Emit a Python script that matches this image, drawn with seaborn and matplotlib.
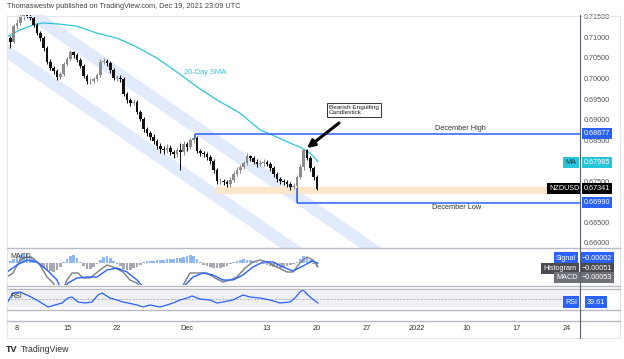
import numpy as np
import pandas as pd
import matplotlib
matplotlib.use("Agg")
import matplotlib.pyplot as plt
import matplotlib.transforms as mtransforms
from matplotlib.lines import Line2D
import seaborn as sns

sns.set_theme(style="white")
plt.rcParams["font.family"] = ["Liberation Sans", "DejaVu Sans"]

# ---------------- data (NZD/USD, 8h bars, x in trading days from Nov 8) ----------------
first_open = 0.7110
close = [0.7101, 0.7091, 0.7130, 0.7138, 0.7152, 0.7157, 0.7155, 0.7150, 0.7133, 0.7113,
         0.7101, 0.7077, 0.7043, 0.7028, 0.7021, 0.7006, 0.7013, 0.7038, 0.7050, 0.7067,
         0.7060, 0.7048, 0.7033, 0.7009, 0.6996, 0.6996, 0.7001, 0.7011, 0.7043, 0.7045,
         0.7040, 0.7023, 0.7004, 0.7004, 0.7001, 0.6965, 0.6950, 0.6943, 0.6945, 0.6921,
         0.6904, 0.6879, 0.6870, 0.6860, 0.6850, 0.6838, 0.6830, 0.6828, 0.6833, 0.6823,
         0.6818, 0.6828, 0.6823, 0.6843, 0.6835, 0.6852, 0.6858, 0.6826, 0.6821, 0.6818,
         0.6811, 0.6801, 0.6779, 0.6752, 0.6752, 0.6750, 0.6745, 0.6755, 0.6770, 0.6779,
         0.6787, 0.6796, 0.6813, 0.6809, 0.6799, 0.6794, 0.6796, 0.6799, 0.6794, 0.6784,
         0.6770, 0.6757, 0.6752, 0.6750, 0.6745, 0.6738, 0.6740, 0.6762, 0.6787, 0.6828,
         0.6809, 0.6784, 0.6762, 0.6734]
high = [0.7116, 0.7105, 0.7136, 0.7147, 0.7160, 0.7165, 0.7163, 0.7160, 0.7154, 0.7137,
        0.7118, 0.7105, 0.7081, 0.7049, 0.7034, 0.7025, 0.7019, 0.7043, 0.7056, 0.7073,
        0.7070, 0.7064, 0.7052, 0.7037, 0.7013, 0.7003, 0.7007, 0.7017, 0.7050, 0.7052,
        0.7050, 0.7044, 0.7027, 0.7010, 0.7012, 0.7005, 0.6970, 0.6956, 0.6952, 0.6949,
        0.6926, 0.6909, 0.6884, 0.6875, 0.6866, 0.6855, 0.6844, 0.6837, 0.6842, 0.6840,
        0.6829, 0.6836, 0.6845, 0.6850, 0.6848, 0.6858, 0.6868, 0.6862, 0.6830, 0.6826,
        0.6823, 0.6816, 0.6805, 0.6783, 0.6760, 0.6758, 0.6756, 0.6762, 0.6776, 0.6786,
        0.6792, 0.6802, 0.6820, 0.6817, 0.6813, 0.6805, 0.6804, 0.6806, 0.6804, 0.6798,
        0.6788, 0.6774, 0.6762, 0.6757, 0.6756, 0.6750, 0.6747, 0.6768, 0.6794, 0.6831,
        0.6830, 0.6813, 0.6788, 0.6766]
low = [0.7080, 0.7078, 0.7088, 0.7124, 0.7132, 0.7146, 0.7149, 0.7144, 0.7128, 0.7108,
       0.7095, 0.7070, 0.7038, 0.7022, 0.7014, 0.6998, 0.7001, 0.7009, 0.7032, 0.7046,
       0.7053, 0.7042, 0.7027, 0.7003, 0.6990, 0.6989, 0.6991, 0.6997, 0.7007, 0.7037,
       0.7033, 0.7017, 0.6998, 0.6997, 0.6994, 0.6959, 0.6943, 0.6936, 0.6937, 0.6915,
       0.6898, 0.6872, 0.6863, 0.6852, 0.6843, 0.6830, 0.6820, 0.6818, 0.6821, 0.6815,
       0.6808, 0.6810, 0.6780, 0.6815, 0.6826, 0.6830, 0.6845, 0.6820, 0.6814, 0.6811,
       0.6804, 0.6795, 0.6772, 0.6745, 0.6744, 0.6742, 0.6737, 0.6739, 0.6750, 0.6765,
       0.6773, 0.6781, 0.6791, 0.6802, 0.6793, 0.6787, 0.6789, 0.6790, 0.6788, 0.6778,
       0.6763, 0.6750, 0.6745, 0.6742, 0.6737, 0.6730, 0.6733, 0.6699, 0.6757, 0.6780,
       0.6803, 0.6777, 0.6755, 0.6730]

sma_day = [-1.0, 0.3, 1.6, 2.6, 4.3, 6.0, 8.0, 10.0, 12.0, 14.0, 16.0, 18.0, 20.0,
           22.3, 24.3, 25.3, 27.3, 28.3, 29.0, 29.6, 30.1]
sma_val = [0.7104, 0.7121, 0.7133, 0.7138, 0.7135, 0.7130, 0.7113, 0.7101, 0.7079,
           0.7052, 0.7018, 0.6982, 0.6950, 0.6918, 0.6877, 0.6867, 0.6845, 0.6835,
           0.6826, 0.6814, 0.6799]

chan_day = [-1.0, 40.0]
chan_a = [0.7068, 0.6378]
chan_b = [0.7202, 0.6512]
chan_half = 0.0018

dec_high, dec_low = 0.68677, 0.66990
last_price, ma_last = 0.67341, 0.67985
zone = (0.6721, 0.6738)
price_ticks = [0.660, 0.665, 0.670, 0.675, 0.680, 0.685, 0.690, 0.695, 0.700, 0.705, 0.710, 0.715]

hist = [0.00013, 0.00026, 0.00052, 0.00078, 0.00104, 0.00117, 0.00117, 0.00091, 0.00052, 0.00013,
        -0.00039, -0.00065, -0.00091, -0.00104, -0.00117, -0.00091, -0.00052, 0.00013, 0.00052, 0.00091,
        0.00104, 0.00065, 0.00013, -0.00039, -0.00078, -0.00078, -0.00052, -0.00013, 0.00039, 0.00078,
        0.00091, 0.00065, 0.00026, -0.00013, -0.00039, -0.00078, -0.00091, -0.00091, -0.00065, -0.00052,
        -0.00026, 0.00013, 0.00026, 0.00026, 0.00026, 0.00039, 0.00039, 0.00039, 0.00052, 0.00052,
        0.00052, 0.00065, 0.00065, 0.00078, 0.00091, 0.00104, 0.00091, 0.00052, 0.00013, -0.00026,
        -0.00039, -0.00052, -0.00065, -0.00065, -0.00065, -0.00052, -0.00039, -0.00013, 0.00013, 0.00026,
        0.00039, 0.00052, 0.00039, 0.00039, 0.00026, 0.00013, -0.00005, -0.00013, -0.00026, -0.00039,
        -0.00052, -0.00065, -0.00065, -0.00052, -0.00039, -0.00026, -0.00013, 0.00013, 0.00052, 0.00091,
        0.00078, 0.00039, -0.00013, -0.00051]

macd_day = [-1.0, -0.4, 0.3, 1.0, 1.6, 2.3, 3.0, 3.6, 4.1, 4.5, 5.0, 5.5, 6.1, 6.6, 7.3, 8.3,
            9.0, 9.6, 10.6, 11.3, 12.0, 12.3, 13.3, 14.8, 16.1, 16.5, 17.3, 18.3, 19.0, 19.8,
            20.6, 21.3, 22.0, 22.8, 23.6, 24.3, 25.0, 26.0, 27.0, 27.6, 28.3, 29.0, 29.6, 30.1]
macd_val = [-0.00182, -0.00130, 0.00039, 0.00078, 0.00065, -0.00026, -0.00182, -0.00260,
            -0.00351, -0.00377, -0.00221, -0.00130, -0.00130, -0.00195, -0.00195, -0.00091,
            -0.00026, -0.00052, -0.00117, -0.00221, -0.00260, -0.00312, -0.00481, -0.00546,
            -0.00416, -0.00312, -0.00130, -0.00130, -0.00130, -0.00195, -0.00247, -0.00221,
            -0.00182, -0.00065, 0.00013, 0.00039, 0.00013, -0.00052, -0.00117, -0.00117,
            0.00000, 0.00078, 0.00039, -0.00053]
sig_day = [-1.0, 0.0, 1.0, 2.0, 3.0, 4.0, 4.3, 4.7, 5.1, 6.0, 7.0, 8.0, 9.0, 10.0, 11.0, 12.0,
           12.6, 13.8, 15.3, 16.3, 16.8, 17.6, 18.6, 19.6, 20.6, 21.6, 22.6, 23.6, 24.6, 25.6,
           26.6, 27.6, 28.6, 29.5, 30.1]
sig_val = [-0.00117, -0.00026, 0.00039, 0.00013, -0.00091, -0.00221, -0.00312, -0.00351,
           -0.00260, -0.00195, -0.00182, -0.00182, -0.00091, -0.00065, -0.00117, -0.00221,
           -0.00312, -0.00455, -0.00481, -0.00351, -0.00286, -0.00182, -0.00130, -0.00156,
           -0.00221, -0.00221, -0.00156, -0.00052, 0.00013, 0.00013, -0.00052, -0.00104,
           -0.00039, 0.00026, -0.00002]

rsi_day = [-1.0, -0.4, 0.3, 1.0, 1.6, 2.3, 3.1, 3.8, 4.5, 5.1, 5.5, 6.1, 6.8, 7.5, 8.1, 8.5,
           9.3, 10.0, 10.6, 11.1, 12.0, 12.6, 13.3, 14.3, 15.0, 15.6, 16.3, 17.0, 17.5, 18.3,
           19.3, 20.0, 20.6, 21.6, 22.6, 23.3, 24.3, 25.3, 26.3, 27.3, 27.8, 28.3, 28.6, 29.3, 30.1]
rsi_val = [40, 65, 67.5, 60, 52.5, 42.5, 30, 35, 40, 52.5, 55, 42.5, 40, 42.5, 60, 65,
           52.5, 47.5, 42.5, 40, 35, 30, 35, 30, 35, 40, 47.5, 52.5, 57.5, 50,
           47.5, 40, 42.5, 47.5, 60, 55, 52.5, 47.5, 40, 42.5, 52.5, 67.5, 72.5, 55, 39.61]

date_pos = [0, 5, 10, 17, 25, 30, 35, 40, 45, 50, 55]
date_lbl = ["8", "15", "22", "Dec", "13", "20", "27", "2022", "10", "17", "24"]

# ---------------- layout ----------------
W, H = 624, 359
fig = plt.figure(figsize=(W / 100, H / 100), dpi=100)
fig.patch.set_facecolor("white")


def fx(px):
    return px / W


def fy(py):
    return 1 - py / H


XL, XR = 7, 580


def rect(top, bottom):
    return [fx(XL), fy(bottom), fx(XR - XL), (bottom - top) / H]


ax = fig.add_axes(rect(15, 247))
ax_m = fig.add_axes(rect(249, 285))
ax_r = fig.add_axes(rect(289, 309))
XMIN, XMAX = -1.0, 56.3
for a in (ax, ax_m, ax_r):
    a.set_xlim(XMIN, XMAX)
    a.set_xticks([])
    a.set_yticks([])
    for s in a.spines.values():
        s.set_visible(False)
    a.set_facecolor("none")

ax.set_ylim(0.65915, 0.71573)
ax_m.set_ylim(-0.00286, 0.00182)
ax_r.set_ylim(25, 75)

# ---------------- main price panel ----------------
for c in (chan_a, chan_b):
    c = np.array(c)
    ax.fill_between(chan_day, c - chan_half, c + chan_half, color="#e1ebfc", lw=0, zorder=1)

ax.fill_between([19.9, XMAX], zone[0], zone[1], color="#fde6c9", lw=0, zorder=2)

c_arr = np.array(close)
o_arr = np.r_[first_open, c_arr[:-1]]
day = -1 + np.arange(len(close)) / 3.0
cols = np.where(c_arr >= o_arr, "#8c8c8c", "#111111")
ax.vlines(day, low, high, colors=cols, lw=0.75, zorder=4)
ax.bar(day, np.maximum(np.abs(c_arr - o_arr), 0.0001), bottom=np.minimum(o_arr, c_arr),
       width=0.26, color=cols, lw=0, zorder=5)

sma_df = pd.DataFrame({"day": sma_day, "sma": sma_val})
sns.lineplot(data=sma_df, x="day", y="sma", ax=ax, color="#2ec4d8", lw=0.9,
             sort=False, estimator=None, zorder=3)

blue = "#2962ff"
ax.hlines(dec_high, 17.8, XMAX, color=blue, lw=1.1, zorder=6)
ax.vlines(17.8, 0.6856, dec_high, color=blue, lw=1.1, zorder=6)
ax.hlines(dec_low, 28.0, XMAX, color=blue, lw=1.1, zorder=6)
ax.vlines(28.0, dec_low, 0.6735, color=blue, lw=1.1, zorder=6)

ax.text(44.35, 0.68793, "December High", ha="center", va="center", fontsize=5.3, color="#333")
ax.text(44.0, 0.66890, "December Low", ha="center", va="center", fontsize=5.3, color="#333")
ax.text(18.8, 0.70159, "20-Day SMA", ha="center", va="center", fontsize=5.3, color="#2ec4d8")
ax.text(31.2, 0.69256, "Bearish Engulfing\nCandlestick", ha="left", va="center",
        fontsize=4.6, color="#222", linespacing=0.85, zorder=8,
        bbox=dict(boxstyle="square,pad=0.35", fc="white", ec="#333", lw=0.7))
ax.annotate("", xy=(29.0, 0.68329), xytext=(32.2, 0.68939),
            arrowprops=dict(arrowstyle="-|>", color="black", lw=2.2, mutation_scale=11,
                            shrinkA=0, shrinkB=0), zorder=9)

# price axis labels
tr_main = mtransforms.blended_transform_factory(ax.transAxes, ax.transData)
XT = (597 - XL) / (XR - XL)
for v in price_ticks:
    ax.text(XT, v, f"{v:.5f}", transform=tr_main, ha="center", va="center",
            fontsize=5.2, color="#555", clip_on=False)


def tag(axis, tr, y, text, fc, x=XT, tc="white"):
    axis.text(x, y, text, transform=tr, ha="center", va="center", fontsize=5.2, color=tc,
              clip_on=False, zorder=20,
              bbox=dict(boxstyle="square,pad=0.28", fc=fc, ec="none"))


tag(ax, tr_main, dec_high, f"{dec_high:.5f}", blue)
tag(ax, tr_main, ma_last, f"{ma_last:.5f}", "#26c6da")
tag(ax, tr_main, ma_last, "MA", "#26c6da", x=(571 - XL) / (XR - XL), tc="#1a3a40")
tag(ax, tr_main, last_price, f"{last_price:.5f}", "#000000")
tag(ax, tr_main, last_price, "NZDUSD", "#000000", x=(564 - XL) / (XR - XL))
tag(ax, tr_main, dec_low, f"{dec_low:.5f}", blue)

# ---------------- MACD panel ----------------
h_arr = np.array(hist)
hcol = np.where(h_arr >= 0, "#90b8f8", "#a7aab2")
ax_m.bar(day, h_arr, width=0.24, color=hcol, lw=0, zorder=2)
sns.lineplot(x=macd_day, y=macd_val, ax=ax_m, color="#7b7e86", lw=1.0, sort=False,
             estimator=None, zorder=3)
sns.lineplot(x=sig_day, y=sig_val, ax=ax_m, color=blue, lw=1.0, sort=False,
             estimator=None, zorder=4)
ax_m.text(0.006, 0.8, "MACD", transform=ax_m.transAxes, fontsize=5, color="#333", va="center")
tr_m = ax_m.transAxes
tag(ax_m, tr_m, 0.75, "\u22120.00002", blue)
tag(ax_m, tr_m, 0.75, "Signal", blue, x=(566 - XL) / (XR - XL))
tag(ax_m, tr_m, 0.47, "\u22120.00051", "#4a4c52")
tag(ax_m, tr_m, 0.47, "Histogram", "#4a4c52", x=(560 - XL) / (XR - XL))
tag(ax_m, tr_m, 0.22, "\u22120.00053", "#6d7078")
tag(ax_m, tr_m, 0.22, "MACD", "#6d7078", x=(567 - XL) / (XR - XL))

# ---------------- RSI panel ----------------
ax_r.fill_between([XMIN, XMAX], 30, 70, color="#eef0f4", lw=0, zorder=1)
ax_r.hlines(50, XMIN, XMAX, color="#a0a3ab", lw=0.5, linestyles=(0, (3, 2)), zorder=2)
sns.lineplot(x=rsi_day, y=rsi_val, ax=ax_r, color=blue, lw=0.9, sort=False,
             estimator=None, zorder=3)
ax_r.text(0.006, 0.6, "RSI", transform=ax_r.transAxes, fontsize=5, color="#333", va="center")
tag(ax_r, ax_r.transAxes, 0.35, "39.61", blue, x=(596 - XL) / (XR - XL))
tag(ax_r, ax_r.transAxes, 0.35, "RSI", blue, x=(571 - XL) / (XR - XL))

for a in (ax, ax_m, ax_r):
    a.set_xlabel("")
    a.set_ylabel("")

# date labels
tr_d = mtransforms.blended_transform_factory(ax_r.transData, fig.transFigure)
for p, l in zip(date_pos, date_lbl):
    fig.text(p, fy(329), l, transform=tr_d, ha="center", va="center", fontsize=5.3, color="#333")

# ---------------- frame lines ----------------
def hline(py, x0, x1, color, lw):
    fig.add_artist(Line2D([fx(x0), fx(x1)], [fy(py), fy(py)], color=color, lw=lw))


def vline(px, y0, y1, color, lw):
    fig.add_artist(Line2D([fx(px), fx(px)], [fy(y0), fy(y1)], color=color, lw=lw))


light = "#e3e6ec"
hline(15.5, 6, 620, light, 0.8)
hline(337.5, 6, 620, light, 0.8)
vline(6.5, 15, 338, light, 0.8)
vline(620, 15, 338, light, 0.8)
for py in (247.5, 286, 288.5, 309.5, 321):
    hline(py, 6.5, 620, "#b8bbc3", 1.0)
vline(580, 15, 338, "#5d6068", 0.8)

# header / footer
fig.text(fx(7), fy(7), "Thomaswestw published on TradingView.com, Dec 19, 2021 23:09 UTC",
         ha="left", va="center", fontsize=5.3, color="#444")
fig.text(fx(6), fy(349), "TV", ha="left", va="center", fontsize=6.5, color="#222",
         fontweight="heavy")
fig.text(fx(21), fy(349), "TradingView", ha="left", va="center", fontsize=6.3, color="#333")

fig.savefig("out.png", dpi=100, facecolor="white")
